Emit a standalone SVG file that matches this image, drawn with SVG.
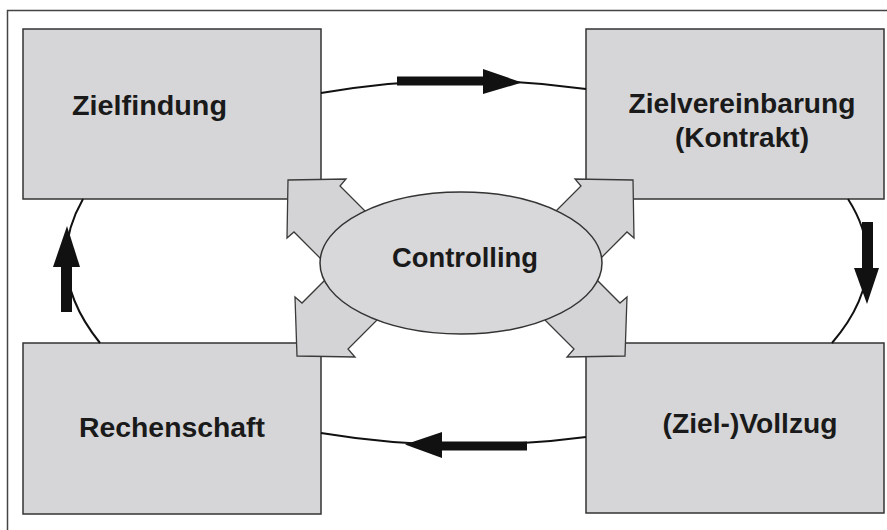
<svg xmlns="http://www.w3.org/2000/svg" width="887" height="530" viewBox="0 0 887 530">
<defs>
<style>
.box{fill:#d6d6d8;stroke:#333;stroke-width:1.5}
.lbl{font-family:"Liberation Sans",Arial,sans-serif;font-weight:bold;font-size:27px;fill:#1a1a1a}
.arc{fill:none;stroke:#111;stroke-width:2}
.thick{fill:#111;stroke:none}
.blk{fill:#d4d4d6;stroke:#3a3a3a;stroke-width:1.3;stroke-linejoin:miter}
</style>
</defs>
<rect x="0" y="0" width="887" height="530" fill="#fff"/>
<rect x="7.5" y="10.5" width="890" height="530" fill="none" stroke="#444" stroke-width="1.5"/>

<g id="zielfindung">
<rect class="box" x="23" y="29" width="298" height="170"/>
<text class="lbl" x="72" y="115" textLength="155" lengthAdjust="spacingAndGlyphs">Zielfindung</text>
</g>
<g id="zielvereinbarung">
<rect class="box" x="586" y="29" width="298" height="170"/>
<text class="lbl" x="742" y="113" text-anchor="middle" textLength="227" lengthAdjust="spacingAndGlyphs">Zielvereinbarung</text>
<text class="lbl" x="742" y="147" text-anchor="middle" textLength="134" lengthAdjust="spacingAndGlyphs">(Kontrakt)</text>
</g>
<g id="rechenschaft">
<rect class="box" x="23" y="343" width="298" height="171"/>
<text class="lbl" x="172" y="437" text-anchor="middle" textLength="186" lengthAdjust="spacingAndGlyphs">Rechenschaft</text>
</g>
<g id="vollzug">
<rect class="box" x="586" y="343" width="298" height="170"/>
<text class="lbl" x="750" y="433" text-anchor="middle" textLength="175" lengthAdjust="spacingAndGlyphs">(Ziel-)Vollzug</text>
</g>

<g id="connectors">
<!-- top: Zielfindung -> Zielvereinbarung -->
<path class="arc" d="M321,93 Q453,70 586,89"/>
<rect class="thick" x="397" y="76.5" width="90" height="9"/>
<polygon class="thick" points="483,69 522,82.5 483,94"/>
<!-- right: Zielvereinbarung -> Vollzug -->
<path class="arc" d="M848,199 Q894,271 832,343"/>
<rect class="thick" x="862" y="222" width="11" height="48"/>
<polygon class="thick" points="854,268 867,304 879,268"/>
<!-- bottom: Vollzug -> Rechenschaft -->
<path class="arc" d="M586,437 Q453,455 321,433"/>
<rect class="thick" x="438" y="441.5" width="89" height="9"/>
<polygon class="thick" points="442,432 405,444.5 442,458"/>
<!-- left: Rechenschaft -> Zielfindung -->
<path class="arc" d="M100,343 Q42,271 83,199"/>
<rect class="thick" x="61" y="264" width="11" height="48"/>
<polygon class="thick" points="53,267 67,226 80,267"/>
<!-- block arrows from Controlling -->
<polygon class="blk" points="288,180 346,179 340,186 385,231 339,277 294,232 287,238"/>
<polygon class="blk" points="633,180 575,179 581,186 536,231 582,277 627,232 634,238"/>
<polygon class="blk" points="297,356 355,357 348,349 393,304 347,258 302,303 295,297"/>
<polygon class="blk" points="625,356 567,357 574,349 529,304 575,258 620,303 627,297"/>
</g>

<g id="controlling">
<ellipse cx="461" cy="263" rx="141" ry="71" fill="#d8d8da" stroke="#333" stroke-width="1.5"/>
<text class="lbl" x="465" y="267" text-anchor="middle" textLength="146" lengthAdjust="spacingAndGlyphs">Controlling</text>
</g>
</svg>
